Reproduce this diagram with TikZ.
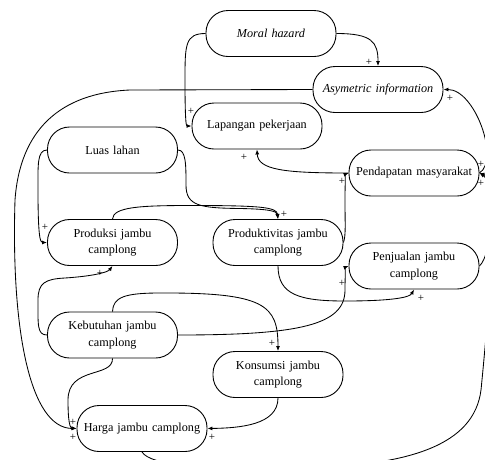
\documentclass[tikz,border=0pt]{standalone}
\usepackage{fontspec}
\setmainfont{Liberation Serif}
\usetikzlibrary{arrows.meta, positioning}

\begin{document}
\begin{tikzpicture}[x=1pt, y=-1pt,
        box/.style={draw, line width=0.9pt, rounded corners=22pt, minimum width=130pt, minimum height=46pt, text width=120pt, align=center, font=\fontsize{12.2}{16.5}\selectfont},
        link/.style={line width=0.85pt, -{Latex[length=5pt, width=4pt]}},
        plus/.style={inner sep=0pt, font=\fontsize{11}{11}\selectfont}]

        \useasboundingbox (0,0) rectangle (485,459);

        \node[box] (mh) at (271,33.5) {\textit{Moral hazard}};
        \node[box] (ai) at (378,89.5) {\textit{Asymetric information}};
        \node[box] (lp) at (257,126) {Lapangan pekerjaan};
        \node[box] (ll) at (112.5,150) {Luas lahan};
        \node[box] (pm) at (414,173) {Pendapatan masyarakat};
        \node[box] (pj) at (112.5,242.5) {Produksi jambu\\camplong};
        \node[box] (pt) at (278,242.5) {Produktivitas jambu\\camplong};
        \node[box] (pn) at (414,266) {Penjualan jambu\\camplong};
        \node[box] (kb) at (112.5,335) {Kebutuhan jambu\\camplong};
        \node[box] (ks) at (278,374.5) {Konsumsi jambu\\camplong};
        \node[box] (hj) at (142,428.5) {Harga jambu camplong};

        % links
        \draw[link] (mh.east) .. controls (372,33.5) and (378,42) .. (ai.north);
        \draw[link] (mh.west) .. controls (185,33.5) and (185,45) .. (185,80) .. controls (185,118) and (186,126) .. (lp.west);
        \draw[link] (ai.west) -- (130,90) .. controls (60,93) and (20,130) .. (15,200) .. controls (11,330) and (30,428) .. (hj.west);
        \draw[link] (kb.south) .. controls (113,378) and (68,366) .. (68,400) .. controls (68,422) and (70,428) .. (hj.west);
        \draw[link] (ll.west) .. controls (37,150) and (38,165) .. (38,190) .. controls (38,235) and (40,242.5) .. (pj.west);
        \draw[link] (ll.east) .. controls (186,150) and (186,165) .. (186,185) .. controls (186,206) and (200,208) .. (240,208.5) .. controls (268,209) and (277,211) .. (pt.north);
        \draw[link] (pj.north) .. controls (113,207) and (140,205.5) .. (190,205.5) .. controls (260,205.5) and (277,207) .. (pt.north);
        \draw[link] (pt.east) .. controls (346,235) and (345,225) .. (345,200) .. controls (345,180) and (346,174) .. (pm.west);
        \draw[link] (pm.west) .. controls (285,173) and (258,170) .. (lp.south);
        \draw[link] (pt.south) .. controls (278,295) and (300,301) .. (345,301) .. controls (395,301) and (410,297) .. (pn.south);
        \draw[link] (kb.east) .. controls (300,335) and (345,325) .. (345,290) .. controls (345,275) and (346,267) .. (pn.west);
        \draw[link] (kb.north) .. controls (113,297) and (125,293) .. (160,293) .. controls (265,292.5) and (278,305) .. (ks.north);
        \draw[link] (kb.west) .. controls (37,335) and (38,325) .. (38,300) .. controls (38,283) and (45,279) .. (65,278) .. controls (95,276) and (108,272) .. (pj.south);
        \draw[link] (ks.south) .. controls (278,425) and (240,428) .. (hj.east);
        \draw[link] (hj.south) .. controls (150,465) and (200,470) .. (300,468) .. controls (410,466) and (474,445) .. (481,390) .. controls (488,320) and (500,180) .. (pm.east);
        \draw[link] (pn.east) .. controls (492,255) and (498,185) .. (pm.east);
        \draw[link] (pm.east) .. controls (500,160) and (475,89.5) .. (ai.east);

        % signs
        \node[plus] (s1) at (369,62) {+};
        \node[plus] (s2) at (191,111) {+};
        \node[plus] (s3) at (450,98) {+};
        \node[plus] (s4) at (244,157) {+};
        \node[plus] (s5) at (342,181) {+};
        \node[plus] (s6) at (481,164) {+};
        \node[plus] (s7) at (481,183) {+};
        \node[plus] (s8) at (45,227) {+};
        \node[plus] (s9) at (284,214) {+};
        \node[plus] (s10) at (100,273) {+};
        \node[plus] (s11) at (342,283) {+};
        \node[plus] (s12) at (421,298) {+};
        \node[plus] (s13) at (272,343) {+};
        \node[plus] (s14) at (73,422) {+};
        \node[plus] (s15) at (73,437) {+};
        \node[plus] (s16) at (212,437) {+};

\end{tikzpicture}
\end{document}
